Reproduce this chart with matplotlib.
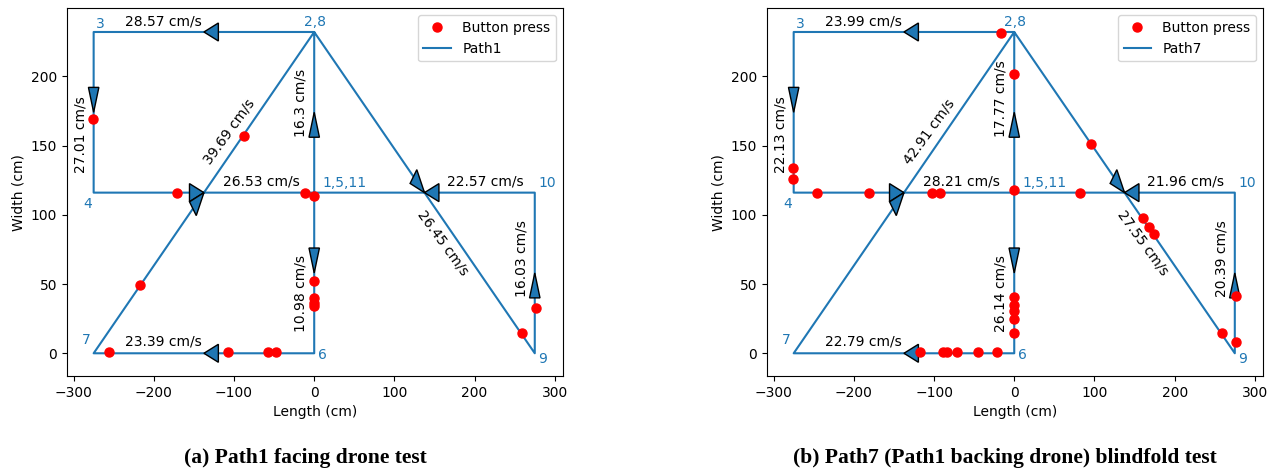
import numpy as np
import matplotlib
matplotlib.use("Agg")
import matplotlib.pyplot as plt

# Path vertices (cm), visited in order 1 -> 11
path_x = [0, 0, -275, -275, 0, 0, -275, 0, 275, 275, 0]
path_y = [116, 232, 232, 116, 116, 0, 0, 232, 0, 116, 116]

node_names = ["1,5,11", "2,8", "3", "4", "6", "7", "9", "10"]

# Segment speeds (cm/s), segments 1-2, 2-3, ..., 10-11
speeds_path1 = ["16.3", "28.57", "27.01", "26.53", "10.98",
                "23.39", "39.69", "26.45", "16.03", "22.57"]
speeds_path7 = ["17.77", "23.99", "22.13", "28.21", "26.14",
                "22.79", "42.91", "27.55", "20.39", "21.96"]

# Button presses (cm)
press1_x = [-276, -88, -171, -11, 0, -217.5, -256, -107, -57, -48,
            0, 0, 0, 0, 259, 276]
press1_y = [169, 157, 116, 116, 113.6, 49, 1, 1, 1, 1,
            52, 40, 36, 34, 15, 33]
press7_x = [-16, 0, -276, -276, -246, -181, -103, -92.5, 0, 96, 81.7,
            0, 0, 0, 0, 0, -117, -89.2, -83.3, -70.8, -45.8, -22.1,
            160.4, 168.3, 174.2, 258.8, 276.7, 276.7]
press7_y = [231, 201.7, 134, 125.6, 116, 116, 116, 116, 118, 151, 116,
            40.4, 34.9, 30.8, 24.8, 14.4, 1, 1, 1, 1, 1, 1,
            97.5, 91.4, 86.1, 14.4, 7.9, 41.4]

# layout of the text annotations
node_pos = [(37.5, 122.7), (1, 239.5), (-267, 238), (-282, 108),
            (10, -1.2), (-284, 9.6), (285, -4.3), (290, 123)]
speed_pos = [(-16.6, 156, 90, "bottom"), (-188, 239.4, 0, "center"),
             (-291.6, 130, 90, "bottom"), (-66, 124, 0, "center"),
             (-16.6, 15.6, 90, "bottom"), (-188, 8.4, 0, "center"),
             (-106, 160, 54, "center"), (161, 79.6, -54, "center"),
             (259, 40.9, 90, "bottom"), (213, 124, 0, "center")]


def draw_panel(ax, speeds, px, py, name):
    ax.plot(px, py, "o", color="red", markersize=6.5, label="Button press", zorder=4)
    ax.plot(path_x, path_y, color="C0", lw=1.5, label=name, zorder=2)

    # arrow heads at segment midpoints
    hl, hw = 18, 13
    for i in range(len(path_x) - 1):
        x0, y0 = path_x[i], path_y[i]
        x1, y1 = path_x[i + 1], path_y[i + 1]
        mx, my = (x0 + x1) / 2, (y0 + y1) / 2
        d = np.hypot(x1 - x0, y1 - y0)
        ux, uy = (x1 - x0) / d, (y1 - y0) / d
        ax.arrow(mx - ux * hl, my - uy * hl, ux * hl, uy * hl,
                 head_length=hl, head_width=hw, length_includes_head=True,
                 fc="C0", ec="black", lw=1, zorder=3)

    for (x, y), t in zip(node_pos, node_names):
        ax.text(x, y, t, color="C0", ha="center", va="center", fontsize=10)

    for (x, y, rot, va), s in zip(speed_pos, speeds):
        ax.text(x, y, s + " cm/s", rotation=rot, ha="center", va=va,
                fontsize=10, rotation_mode="default")

    ax.set_xlim(-308.6, 310.2)
    ax.set_ylim(-16.4, 249.1)
    ax.set_xticks([-300, -200, -100, 0, 100, 200, 300])
    ax.set_yticks([0, 50, 100, 150, 200])
    ax.set_xlabel("Length (cm)")
    ax.set_ylabel("Width (cm)")
    ax.legend(loc="upper right")


fig = plt.figure(figsize=(12.69, 4.72), dpi=100)
ax1 = fig.add_axes([0.05256, 0.2034, 0.3911, 0.779])
ax2 = fig.add_axes([0.6042, 0.2034, 0.3911, 0.779])

draw_panel(ax1, speeds_path1, press1_x, press1_y, "Path1")
draw_panel(ax2, speeds_path7, press7_x, press7_y, "Path7")

fig.text(0.2407, 0.03, "(a) Path1 facing drone test", ha="center", va="center",
         fontsize=15.5, fontweight="bold", family="Liberation Serif")
fig.text(0.792, 0.03, "(b) Path7 (Path1 backing drone) blindfold test", ha="center",
         va="center", fontsize=15.5, fontweight="bold", family="Liberation Serif")

fig.savefig("out.png", dpi=100)
